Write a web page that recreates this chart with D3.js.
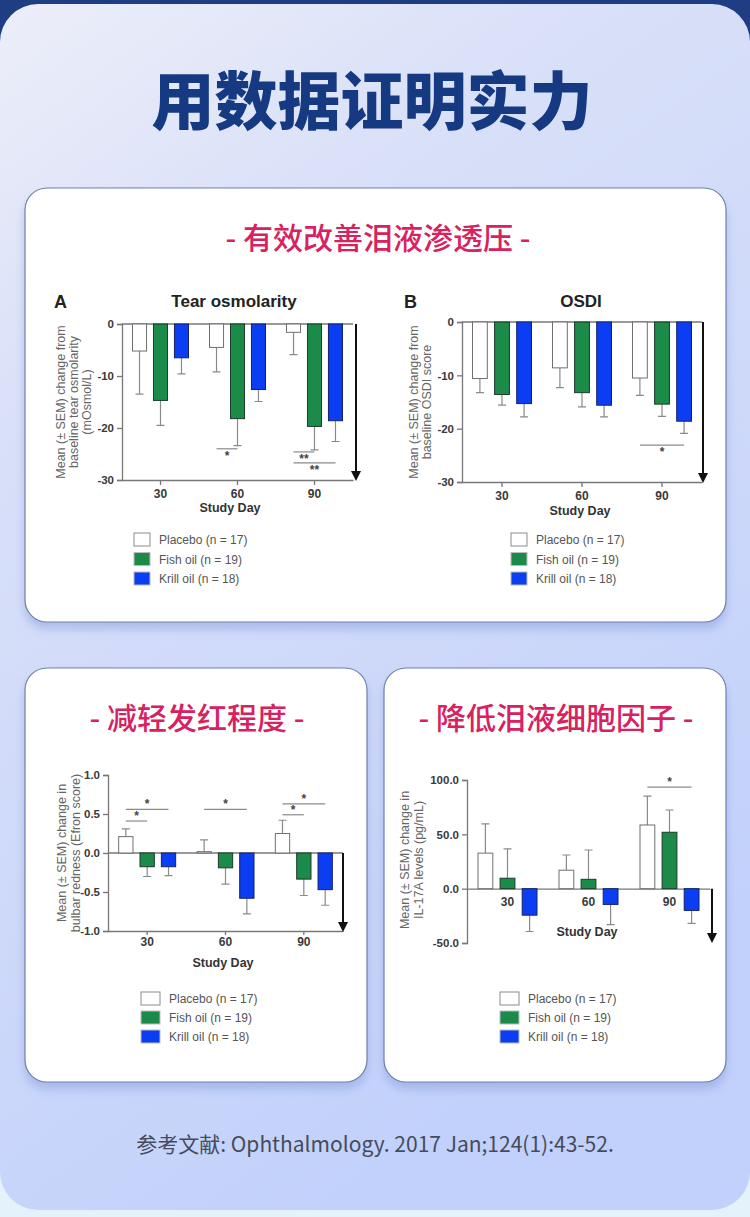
<!DOCTYPE html>
<html lang="zh">
<head>
<meta charset="utf-8"/>
<title>用数据证明实力</title>
<script src="https://d3js.org/d3.v7.min.js"></script>
<style>
  body{margin:0;background:#e6f2fb;}
  svg{display:block;}
</style>
</head>
<body>
<svg id="page"></svg>
<script>
// ---- data ----
const days = ['30', '60', '90'];
const groups = ['Placebo', 'Fish oil', 'Krill oil'];
const legendText = ['Placebo (n = 17)', 'Fish oil (n = 19)', 'Krill oil (n = 18)'];

// A: tear osmolarity, rows = day, cols = group
const osmMean = [[-5.2, -14.7, -6.5], [-4.5, -18.2, -12.6], [-1.6, -19.7, -18.6]];
const osmSem  = [[8.3, 4.8, 3.1], [4.7, 5.2, 2.3], [4.3, 4.5, 4.0]];
const osmTicks = [0, -10, -20, -30];
const osmSig = [
  {day: '60', a: 0, b: 1, y: -24.0, label: '*'},
  {day: '90', a: 0, b: 1, y: -24.6, label: '**'},
  {day: '90', a: 0, b: 2, y: -26.7, label: '**'}
];

// B: OSDI
const osdiMean = [[-10.6, -13.6, -15.3], [-8.6, -13.25, -15.6], [-10.5, -15.4, -18.6]];
const osdiSem  = [[2.65, 2.0, 2.5], [3.7, 2.65, 2.2], [3.25, 2.3, 2.3]];
const osdiTicks = [0, -10, -20, -30];
const osdiSig = [{day: '90', a: 0, b: 2, y: -23.1, label: '*'}];

// C: bulbar redness
const redMean = [[0.21, -0.176, -0.176], [0.017, -0.19, -0.58], [0.25, -0.335, -0.47]];
const redSem  = [[0.10, 0.125, 0.115], [0.15, 0.21, 0.20], [0.17, 0.21, 0.20]];
const redTicks = [1, 0.5, 0, -0.5, -1];
const redSig = [
  {day: '30', a: 0, b: 1, y: 0.41, label: '*'},
  {day: '30', a: 0, b: 2, y: 0.56, label: '*'},
  {day: '60', a: 0, b: 2, y: 0.56, label: '*'},
  {day: '90', a: 0, b: 1, y: 0.49, label: '*'},
  {day: '90', a: 0, b: 2, y: 0.63, label: '*'}
];

// D: IL-17A
const ilMean = [[32.7, 9.6, -24.4], [17, 8.6, -14.5], [58.6, 51.9, -20]];
const ilSem  = [[27, 27, 15], [14, 27, 18.5], [26.5, 20.5, 12]];
const ilTicks = [100, 50, 0, -50];
const ilSig = [{day: '90', a: 0, b: 2, y: 93.5, label: '*'}];

// ---- page ----
const W = 750, H = 1217;
const latin = "'Liberation Sans', Arial, sans-serif";
const cjk = "'Noto Sans CJK SC', sans-serif";
const color = d3.scaleOrdinal().domain(groups).range(['#ffffff', '#1c8a48', '#0b3ef2']);
const stroke = d3.scaleOrdinal().domain(groups).range(['#6f6f6f', '#1d3b2a', '#14226a']);
// plain hyphen for negatives, like the original figure
const hyph = f => d => f(d).replace('\u2212', '-');

const svg = d3.select('#page').attr('width', W).attr('height', H);
const defs = svg.append('defs');

const bg = defs.append('linearGradient').attr('id', 'bg')
  .attr('x1', 0).attr('y1', 0).attr('x2', 0.45).attr('y2', 1);
bg.append('stop').attr('offset', 0).attr('stop-color', '#eceef9');
bg.append('stop').attr('offset', 0.3).attr('stop-color', '#d9e0f8');
bg.append('stop').attr('offset', 1).attr('stop-color', '#c2d1fb');

const sh = defs.append('filter').attr('id', 'shadow')
  .attr('x', '-10%').attr('y', '-10%').attr('width', '120%').attr('height', '130%');
sh.append('feDropShadow').attr('dx', 0).attr('dy', 7).attr('stdDeviation', 5)
  .attr('flood-color', '#7f95d8').attr('flood-opacity', 0.45);

// outer frame: dark strip above, pale strip below
svg.append('rect').attr('width', W).attr('height', 80).attr('fill', '#1f3d83');
svg.append('rect').attr('y', 1150).attr('width', W).attr('height', 67).attr('fill', '#e4f3fb');
svg.append('rect').attr('x', 0).attr('y', 4).attr('width', W).attr('height', 1206)
  .attr('rx', 38).attr('fill', 'url(#bg)');

svg.append('text').attr('x', 372).attr('y', 124).attr('text-anchor', 'middle')
  .attr('font-family', cjk).attr('font-weight', 900).attr('font-size', 63)
  .attr('fill', '#163a82').text('用数据证明实力');

const cards = [
  {x: 25, y: 188, w: 701, h: 434, title: '- 有效改善泪液渗透压 -', cx: 378},
  {x: 25, y: 668, w: 342, h: 414, title: '- 减轻发红程度 -', cx: 197},
  {x: 384, y: 668, w: 342, h: 414, title: '- 降低泪液细胞因子 -', cx: 556}
];
cards.forEach(c => {
  svg.append('rect').attr('x', c.x).attr('y', c.y).attr('width', c.w).attr('height', c.h)
    .attr('rx', 22).attr('fill', '#ffffff').attr('stroke', '#6f80a8').attr('stroke-width', 1.2)
    .attr('filter', 'url(#shadow)');
  svg.append('text').attr('x', c.cx).attr('y', c.y + 61).attr('text-anchor', 'middle')
    .attr('font-family', cjk).attr('font-weight', 500).attr('font-size', 30)
    .attr('fill', '#d8215f').text(c.title);
});

svg.append('text').attr('x', 375).attr('y', 1152).attr('text-anchor', 'middle')
  .attr('font-family', cjk).attr('font-size', 21).attr('fill', '#454b5c')
  .text('参考文献: Ophthalmology. 2017 Jan;124(1):43-52.');

// ---- one bar chart panel ----
function drawChart(cfg) {
  const g = svg.append('g').attr('font-family', latin);
  const y = d3.scaleLinear().domain([cfg.ticks[cfg.ticks.length - 1], cfg.ticks[0]])
    .range([cfg.bottom, cfg.top]);
  const x0 = d3.scaleBand().domain(days).range([cfg.left, cfg.left + cfg.width]);
  const inner = cfg.barSpan;
  const x1 = d3.scaleBand().domain(groups)
    .range([(x0.bandwidth() - inner) / 2, (x0.bandwidth() + inner) / 2]).paddingInner(0.33);
  const axisCol = '#777';

  // y axis
  const yAxis = g.append('g').attr('transform', `translate(${cfg.left},0)`)
    .call(d3.axisLeft(y).tickValues(cfg.ticks).tickSize(5).tickPadding(3).tickFormat(hyph(cfg.fmt)));
  yAxis.select('.domain').attr('stroke', axisCol).attr('stroke-width', 1.3);
  yAxis.selectAll('.tick line').attr('stroke', axisCol).attr('stroke-width', 1.3);
  yAxis.selectAll('.tick text').attr('font-size', 11.5).attr('font-weight', 'bold')
    .attr('fill', '#3a3a3a').attr('font-family', latin);

  // x axis: either at the bottom of the plot or crossing at zero
  const xAxisY = cfg.axisAtZero ? y(0) : cfg.bottom;
  const xAxis = g.append('g').attr('transform', `translate(0,${xAxisY})`)
    .call(d3.axisBottom(x0).tickSize(cfg.xTick).tickSizeOuter(0).tickPadding(cfg.xPad));
  xAxis.select('.domain').attr('stroke', axisCol).attr('stroke-width', 1.3);
  xAxis.selectAll('.tick line').attr('stroke', axisCol).attr('stroke-width', 1.3);
  xAxis.selectAll('.tick text').attr('font-size', 12).attr('font-weight', 'bold')
    .attr('fill', '#3a3a3a').attr('font-family', latin);
  if (!cfg.axisAtZero) {
    g.append('line').attr('x1', cfg.left).attr('x2', cfg.left + cfg.width)
      .attr('y1', y(0)).attr('y2', y(0)).attr('stroke', axisCol).attr('stroke-width', 1.3);
  }

  // bars and error bars
  const rows = days.flatMap((d, i) => groups.map((grp, j) => ({
    day: d, grp, mean: cfg.mean[i][j], sem: cfg.sem[i][j]
  })));
  const bx = d => x0(d.day) + x1(d.grp);
  const ends = d => d.mean + Math.sign(d.mean || 1) * d.sem;

  g.selectAll('.err').data(rows).join('path').attr('class', 'err')
    .attr('fill', 'none').attr('stroke', '#8a8a8a').attr('stroke-width', 1.2)
    .attr('d', d => {
      const cx = bx(d) + x1.bandwidth() / 2, ye = y(ends(d));
      return `M${cx},${y(d.mean)}V${ye}M${cx - 4},${ye}H${cx + 4}`;
    });

  g.selectAll('.bar').data(rows).join('rect').attr('class', 'bar')
    .attr('x', bx).attr('width', x1.bandwidth())
    .attr('y', d => y(Math.max(0, d.mean)))
    .attr('height', d => Math.abs(y(d.mean) - y(0)))
    .attr('fill', d => color(d.grp)).attr('stroke', d => stroke(d.grp)).attr('stroke-width', 1);

  // significance brackets
  cfg.sig.forEach(s => {
    const xa = x0(s.day) + x1(groups[s.a]) + x1.bandwidth() / 2;
    const xb = x0(s.day) + x1(groups[s.b]) + x1.bandwidth() / 2;
    const yy = y(s.y);
    g.append('line').attr('x1', xa).attr('x2', xb).attr('y1', yy).attr('y2', yy)
      .attr('stroke', '#8a8a8a').attr('stroke-width', 1.2);
    g.append('text').attr('x', (xa + xb) / 2).attr('y', cfg.starBelow ? yy + 11 : yy - 1)
      .attr('text-anchor', 'middle').attr('font-size', 12).attr('font-weight', 'bold')
      .attr('fill', '#444').text(s.label);
  });

  // downward arrow at the right
  const ax = cfg.arrowX, ay1 = y(0), ay2 = cfg.arrowEnd;
  g.append('line').attr('x1', ax).attr('x2', ax).attr('y1', ay1).attr('y2', ay2 - 8)
    .attr('stroke', '#111').attr('stroke-width', 2);
  g.append('path').attr('d', `M${ax - 5},${ay2 - 10}L${ax + 5},${ay2 - 10}L${ax},${ay2}Z`)
    .attr('fill', '#111');

  // y title
  const yt = g.append('text').attr('transform', `translate(${cfg.ytX},${cfg.ytY}) rotate(-90)`)
    .attr('text-anchor', 'middle').attr('font-size', cfg.ytSize).attr('fill', '#666');
  cfg.ytitle.forEach((t, i) => yt.append('tspan').attr('x', 0).attr('dy', i ? cfg.ytGap : 0).text(t));

  g.append('text').attr('x', cfg.sdX).attr('y', cfg.sdY).attr('text-anchor', 'middle')
    .attr('font-size', 12.5).attr('font-weight', 'bold').attr('fill', '#333').text('Study Day');

  if (cfg.title) {
    g.append('text').attr('x', cfg.title.x).attr('y', cfg.title.y).attr('text-anchor', 'middle')
      .attr('font-size', 17).attr('font-weight', 'bold').attr('fill', '#222').text(cfg.title.text);
    g.append('text').attr('x', cfg.title.lx).attr('y', cfg.title.y + 1)
      .attr('font-size', 18).attr('font-weight', 'bold').attr('fill', '#222').text(cfg.title.letter);
  }

  // legend
  const lg = g.append('g').attr('transform', `translate(${cfg.legend.x},${cfg.legend.y})`);
  groups.forEach((grp, i) => {
    const row = lg.append('g').attr('transform', `translate(0,${i * cfg.legend.gap})`);
    row.append('rect').attr('width', cfg.legend.w).attr('height', 13)
      .attr('fill', color(grp)).attr('stroke', grp === 'Placebo' ? '#8c8c8c' : '#bbb').attr('stroke-width', 1);
    row.append('text').attr('x', cfg.legend.w + 9).attr('y', 11)
      .attr('font-size', 12).attr('fill', '#555').text(legendText[i]);
  });
}

drawChart({
  mean: osmMean, sem: osmSem, ticks: osmTicks, sig: osmSig, fmt: d3.format('d'),
  left: 122, width: 231, top: 324, bottom: 480, barSpan: 56, starBelow: true,
  xTick: 5, xPad: 4,
  arrowX: 356, arrowEnd: 481,
  ytitle: ['Mean (± SEM) change from', 'baseline tear osmolarity', '(mOsmol/L)'],
  ytX: 65, ytY: 402, ytSize: 12.5, ytGap: 13,
  sdX: 230, sdY: 512,
  title: {text: 'Tear osmolarity', x: 234, y: 307, letter: 'A', lx: 54},
  legend: {x: 134, y: 533, gap: 19.5, w: 16}
});

drawChart({
  mean: osdiMean, sem: osdiSem, ticks: osdiTicks, sig: osdiSig, fmt: d3.format('d'),
  left: 462, width: 240, top: 322, bottom: 482, barSpan: 59, starBelow: true,
  xTick: 5, xPad: 4,
  arrowX: 703, arrowEnd: 483,
  ytitle: ['Mean (± SEM) change from', 'baseline OSDI score'],
  ytX: 418, ytY: 402, ytSize: 12.5, ytGap: 13,
  sdX: 580, sdY: 515,
  title: {text: 'OSDI', x: 581, y: 307, letter: 'B', lx: 404},
  legend: {x: 511, y: 533, gap: 19.5, w: 16}
});

drawChart({
  mean: redMean, sem: redSem, ticks: redTicks, sig: redSig, fmt: d3.format('.1f'),
  left: 108, width: 235, top: 775, bottom: 931, barSpan: 57, starBelow: false,
  xTick: 4, xPad: 2,
  arrowX: 343, arrowEnd: 932,
  ytitle: ['Mean (± SEM) change in', 'bulbar redness (Efron score)'],
  ytX: 66, ytY: 853, ytSize: 12.5, ytGap: 14,
  sdX: 223, sdY: 967,
  legend: {x: 141, y: 992, gap: 19, w: 19}
});

drawChart({
  mean: ilMean, sem: ilSem, ticks: ilTicks, sig: ilSig, fmt: d3.format('.1f'),
  left: 467, width: 243, top: 780, bottom: 943, barSpan: 59, starBelow: false, axisAtZero: true,
  xTick: 0, xPad: 9,
  arrowX: 712, arrowEnd: 943,
  ytitle: ['Mean (± SEM) change in', 'IL-17A levels (pg/mL)'],
  ytX: 409, ytY: 860, ytSize: 12.5, ytGap: 14,
  sdX: 587, sdY: 936,
  legend: {x: 500, y: 992, gap: 19, w: 19}
});
</script>
</body>
</html>
